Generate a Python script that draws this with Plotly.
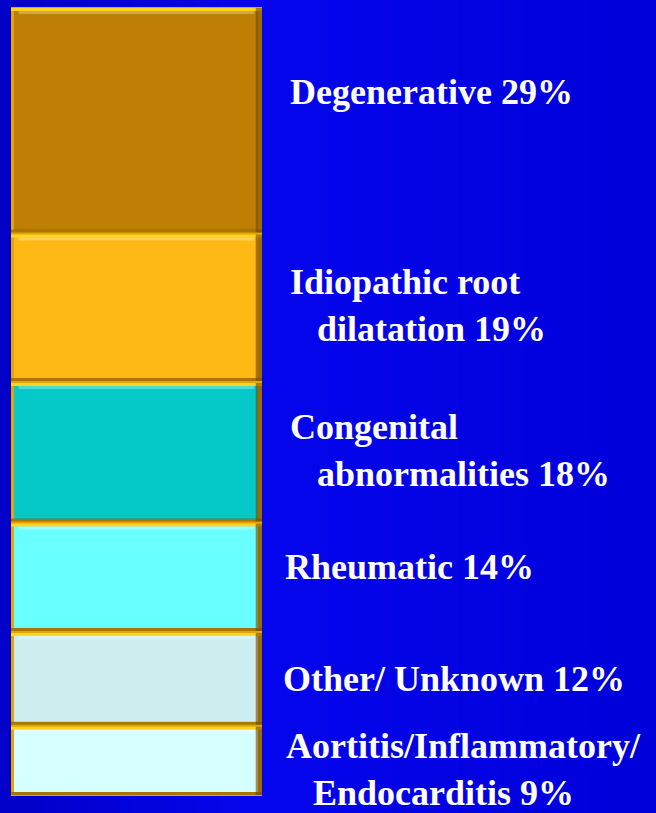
import plotly.graph_objects as go

# Data (bottom to top of the stacked bar)
categories = ["Aortitis/Inflammatory/<br>\u00a0\u00a0\u00a0Endocarditis 9%",
              "Other/ Unknown 12%",
              "Rheumatic 14%",
              "Congenital<br>\u00a0\u00a0\u00a0abnormalities 18%",
              "Idiopathic root<br>\u00a0\u00a0\u00a0dilatation 19%",
              "Degenerative 29%"]
values = [9, 12, 14, 18, 19, 29]
colors = ["#D6FFFF", "#CDEEEE", "#6AFFFF", "#05C8C8", "#FFB915", "#BF7F04"]
label_yshift = [-9, 0, 10, 2, 2, 28]
label_xshift = [-2, -5, -3, 2, 2, 2]

fig = go.Figure()

W = 656
H = 813

# Background gradient strips
n = 60
def bg_color(t):
    if t < 0.4:
        f = t / 0.4
        b = 200 + (238 - 200) * f
        r = 0 + 6 * f
    else:
        f = (t - 0.4) / 0.6
        b = 238 - (238 - 218) * f
        r = 6 - 6 * f
    return f"rgb({int(r)},{int(r)},{int(b)})"

for i in range(n):
    x0 = i / n
    x1 = (i + 1) / n + 0.002
    fig.add_shape(type="rect", xref="paper", yref="paper", x0=x0, x1=x1, y0=0, y1=1,
                  fillcolor=bg_color((i + 0.5) / n), line_width=0, layer="below")

for v, c, name in zip(values, colors, categories):
    fig.add_trace(go.Bar(x=["cause"], y=[v], marker=dict(color=c, line=dict(color="#E2A406", width=7)),
                         name=name, hoverinfo="skip"))

# Bevel highlights and shadows per segment (in data units along y)
unit = 101 / 787  # approx data units per pixel
cum = 0
for v, c in zip(values, colors):
    y0, y1 = cum, cum + v
    fig.add_shape(type="rect", xref="x domain", yref="y", x0=0.0, x1=1.0, y0=y1 - 4 * unit, y1=y1 - 1 * unit,
                  fillcolor="rgba(255,215,30,0.95)", line_width=0, layer="above")
    fig.add_shape(type="rect", xref="x domain", yref="y", x0=0.03, x1=0.97, y0=y1 - 7 * unit, y1=y1 - 4 * unit,
                  fillcolor="rgba(255,255,255,0.3)", line_width=0, layer="above")
    fig.add_shape(type="rect", xref="x domain", yref="y", x0=0.0, x1=1.0, y0=y0 + 1 * unit, y1=y0 + 4 * unit,
                  fillcolor="rgba(120,80,0,0.55)", line_width=0, layer="above")
    fig.add_shape(type="rect", xref="x domain", yref="y", x0=0.975, x1=1.0, y0=y0 + 1 * unit, y1=y1 - 1 * unit,
                  fillcolor="rgba(110,70,0,0.6)", line_width=0, layer="above")
    cum = y1

cum = 0
for v, name, ys, xs in zip(values, categories, label_yshift, label_xshift):
    mid = cum + v / 2
    fig.add_annotation(x=286 / W, xref="paper", y=mid, yref="y", text=name, showarrow=False,
                       xanchor="left", yanchor="middle", align="left", yshift=ys, xshift=xs,
                       font=dict(family="Liberation Serif", size=36, color="white", weight="bold"))
    cum += v

fig.update_layout(
    width=W, height=H,
    margin=dict(l=0, r=0, t=0, b=0),
    paper_bgcolor="#0000E0", plot_bgcolor="rgba(0,0,0,0)",
    barmode="stack", bargap=0, showlegend=False,
    xaxis=dict(domain=[11 / W, 262 / W], visible=False),
    yaxis=dict(domain=[17 / H, 806 / H], range=[0, 101], visible=False),
)

fig.write_html("out.html", config={"displayModeBar": False},
               post_script="document.body.style.margin='0';document.body.style.background='#0000E0';")
